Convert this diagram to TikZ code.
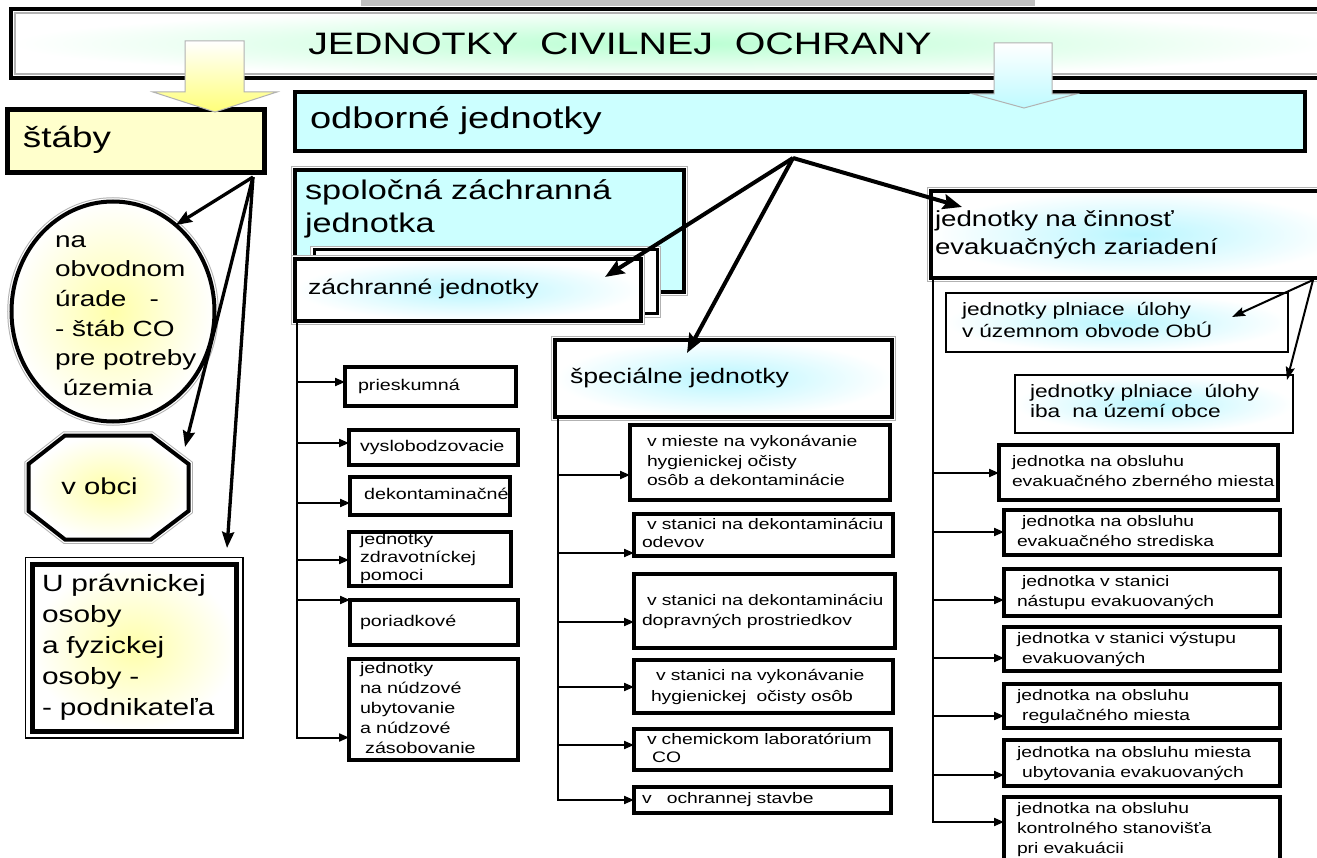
\documentclass[tikz,border=0pt]{standalone}
\usepackage{fontspec}
\setmainfont{Liberation Sans}[FakeStretch=1.27]
\usetikzlibrary{arrows.meta,calc,shapes.geometric}
\definecolor{cyanf}{RGB}{204,255,255}
\definecolor{yelf}{RGB}{255,255,204}
\definecolor{yelglow}{RGB}{255,255,170}
\definecolor{cyanglow}{RGB}{185,246,255}
\definecolor{greenglow}{RGB}{185,255,210}
\definecolor{stripgray}{RGB}{192,192,192}
\definecolor{arrowyel}{RGB}{255,255,120}
\definecolor{arrowcyan}{RGB}{190,250,255}
\newcommand\fsz[2]{\fontsize{#1pt}{#2pt}\selectfont}
\newcommand\bxt[2]{\hspace*{#1pt}\begin{tabular}{@{}l@{}}#2\end{tabular}}
\tikzset{
  base/.style={anchor=north west, outer sep=0pt, inner sep=0pt, align=left},
  dbl/.style={draw=black, line width=4pt, preaction={draw=gray!60, line width=8.5pt}, preaction={draw=white, line width=6.5pt}},
  dblg/.style={base, dbl},
  cglow/.style={shade, inner color=cyanglow, outer color=white},
  yglow/.style={shade, inner color=yelglow, outer color=white},
  smallbox/.style={base, draw=black, line width=4.5pt, fill=white},
  lfont/.style={font=\fsz{15.5}{19}},
  sfont/.style={font=\fsz{15.2}{19.5}},
  rfont/.style={font=\fsz{15.2}{20}},
  conn/.style={line width=2pt},
  arr/.style={conn, -{Triangle[length=10pt,width=8pt]}},
  arrP/.style={line width=2pt, -{Stealth[length=13pt,width=9pt,inset=2pt]}},
  arrS/.style={line width=3.3pt, -{Stealth[length=16pt,width=12pt,inset=2pt]}},
  arrM/.style={line width=4pt, -{Stealth[length=19pt,width=15pt,inset=3pt]}},
  blockarrow/.style={draw=gray!60, line width=1pt}
}
\begin{document}
\begin{tikzpicture}[x=1pt,y=-1pt]
\useasboundingbox (0,0) rectangle (1317,858);
\clip (0,0) rectangle (1317,858);
\fill[white] (0,0) rectangle (1317,858);

% title
\node[base, draw=black, line width=4pt, shade, inner color=greenglow, outer color=white,
      minimum width=1320pt, minimum height=69pt] (title) at (11,9) {};
\draw[gray!60, line width=1.2pt] ($(title.north west)+(4,4)$) rectangle ($(title.south east)+(-4,-4)$);
\fill[stripgray] (361,-2) rectangle (1035,6.5);
\node[font=\fsz{31}{36}, inner sep=0pt] (ttl) at (620,44) {JEDNOTKY\ \ CIVILNEJ\ \ OCHRANY};

% main boxes
\node[base, draw=black, line width=4.5pt, fill=cyanf, minimum width=1010pt, minimum height=59pt,
      text width=1010pt, font=\fsz{30}{35}] (odb) at (295,92) {\bxt{15}{odborné jednotky}};
\node[base, draw=black, line width=5pt, fill=yelf, minimum width=257pt, minimum height=63pt,
      text width=257pt, font=\fsz{29}{34}] (staby) at (7.5,109.5) {\bxt{15.5}{štáby}};

% spolocna zachranna jednotka stack
\node[dblg, fill=cyanf, minimum width=389pt, minimum height=122pt, text width=389pt,
      font=\fsz{27}{33}] (spol) at (295,170)
      {\hspace*{10pt}\parbox[c][102pt][t]{370pt}{spoločná záchranná\\jednotka}};
\node[base, draw=black, line width=3pt, preaction={draw=gray!60, line width=8pt},
      preaction={draw=white, line width=6pt}, fill=white,
      minimum width=343pt, minimum height=64pt] (zb) at (314,250) {};
\node[dblg, cglow, minimum width=346pt, minimum height=62pt, text width=346pt,
      font=\fsz{21}{25}] (zach) at (295,259) {\bxt{13}{záchranné jednotky}};

% zachranne sub-boxes
\node[smallbox, lfont, minimum width=171pt, minimum height=39pt, text width=171pt] (prie) at (345,367) {\bxt{13}{prieskumná}};
\node[smallbox, lfont, minimum width=169pt, minimum height=35pt, text width=169pt] (vysl) at (349,430) {\bxt{11}{vyslobodzovacie}};
\node[smallbox, lfont, minimum width=160pt, minimum height=38pt, text width=160pt] (dekon) at (350,477) {\bxt{9}{\ dekontaminačné}};
\node[smallbox, font=\fsz{15.5}{18}, minimum width=162pt, minimum height=54pt, text width=162pt] (zdrav) at (349,532) {\bxt{11}{jednotky\\zdravotníckej\\pomoci}};
\node[smallbox, lfont, minimum width=168pt, minimum height=45pt, text width=168pt] (pori) at (350,600) {\bxt{10}{poriadkové}};
\node[smallbox, line width=3.5pt, font=\fsz{15.5}{20}, minimum width=169pt, minimum height=101pt, text width=169pt] (nudz) at (349,659) {\bxt{11}{jednotky\\na núdzové\\ubytovanie\\a núdzové\\\ zásobovanie}};

% specialne
\node[dblg, cglow, minimum width=337pt, minimum height=77pt, text width=337pt,
      font=\fsz{21}{25}] (spec) at (555,340) {\bxt{15}{špeciálne jednotky}};
\node[smallbox, sfont, minimum width=260pt, minimum height=75pt, text width=260pt] (s1) at (630,425) {\bxt{17}{v mieste na vykonávanie\\hygienickej očisty\\osôb a dekontaminácie}};
\node[smallbox, font=\fsz{15.2}{18}, minimum width=259pt, minimum height=42pt, text width=259pt] (s2) at (634,514) {\bxt{8}{\ v stanici na dekontamináciu\\odevov}};
\node[smallbox, font=\fsz{15.2}{20}, minimum width=261pt, minimum height=74pt, text width=261pt] (s3) at (634,574) {\bxt{8}{\ v stanici na dekontamináciu\\dopravných prostriedkov}};
\node[smallbox, font=\fsz{15.2}{21}, minimum width=259pt, minimum height=53pt, text width=259pt] (s4) at (634,660) {\bxt{17}{\ v stanici na vykonávanie\\hygienickej\ \ očisty osôb}};
\node[smallbox, font=\fsz{15.2}{18}, minimum width=257pt, minimum height=41pt, text width=257pt] (s5) at (634,729) {\bxt{13}{v chemickom laboratórium\\\ CO}};
\node[smallbox, font=\fsz{15.2}{18}, minimum width=257pt, minimum height=26pt, text width=257pt] (s6) at (634,787) {\bxt{8}{v\ \ \ ochrannej stavbe}};

% evakuacne
\node[dblg, cglow, minimum width=410pt, minimum height=87pt, text width=410pt,
      font=\fsz{21.8}{28}] (cin) at (931,191) {\bxt{4}{jednotky na činnosť\\evakuačných zariadení}};
\node[base, draw=black, line width=1.5pt, cglow, minimum width=342pt, minimum height=59pt,
      text width=342pt, font=\fsz{17.9}{20}] (p1) at (946,293) {\bxt{16}{jednotky plniace\ \ úlohy\\v územnom obvode ObÚ}};
\node[base, draw=black, line width=1.5pt, cglow, minimum width=278pt, minimum height=58pt,
      text width=278pt, font=\fsz{17.9}{20}] (p2) at (1015,375) {\bxt{15}{jednotky plniace\ \ úlohy\\iba\ \ na území obce}};
\node[smallbox, rfont, minimum width=279pt, minimum height=55pt, text width=279pt] (r1) at (999,445) {\bxt{13}{jednotka na obsluhu\\evakuačného zberného miesta}};
\node[smallbox, rfont, minimum width=276pt, minimum height=45pt, text width=276pt] (r2) at (1004,510) {\bxt{13}{\ jednotka na obsluhu\\evakuačného strediska}};
\node[smallbox, rfont, minimum width=276pt, minimum height=47pt, text width=276pt] (r3) at (1004,569) {\bxt{13}{\ jednotka v stanici\\nástupu evakuovaných}};
\node[smallbox, rfont, minimum width=276pt, minimum height=44pt, text width=276pt] (r4) at (1004,627) {\bxt{13}{jednotka v stanici výstupu\\\ evakuovaných}};
\node[smallbox, rfont, minimum width=276pt, minimum height=44pt, text width=276pt] (r5) at (1004,684) {\bxt{13}{jednotka na obsluhu\\\ regulačného miesta}};
\node[smallbox, rfont, minimum width=276pt, minimum height=46pt, text width=276pt] (r6) at (1004,740) {\bxt{13}{jednotka na obsluhu miesta\\\ ubytovania evakuovaných}};
\node[smallbox, rfont, minimum width=276pt, minimum height=64pt, text width=276pt] (r7) at (1004,797) {\bxt{13}{jednotka na obsluhu\\kontrolného stanovišťa\\pri evakuácii}};

% left column
\node[dbl, yglow, shape=ellipse, anchor=center, outer sep=0pt, inner sep=0pt,
      minimum width=203pt, minimum height=220pt, font=\fsz{22}{29.6}] (obv) at (113,311.5)
      {\smash{\raisebox{-9pt}{\makebox[116pt][l]{\begin{tabular}{@{}l@{}}na\\obvodnom\\úrade\ \ \ -\\- štáb CO\\pre potreby\\\ územia\end{tabular}}}}};
\draw[dbl, yglow] (65,435.5) -- (151,435.5) -- (188.5,464) -- (188.5,511) -- (151,539.5)
      -- (65,539.5) -- (28.5,511) -- (28.5,464) -- cycle;
\node[inner sep=0pt, font=\fsz{23}{28}] (obec) at (99.5,486.5) {v obci};
\node[base, draw=black, line width=5pt, preaction={draw=black, line width=15pt},
      preaction={draw=white, line width=12.6pt}, yglow, minimum width=204pt, minimum height=167pt,
      text width=204pt, font=\fsz{23.5}{31}] (pravn) at (32,564)
      {\bxt{10}{U právnickej\\osoby\\a fyzickej\\osoby -\\- podnikateľa}};

% block arrows
\draw[blockarrow, top color=white, bottom color=arrowyel] (185,41) -- (244,41) -- (244,92)
      -- (277,92) -- (215,112) -- (153,92) -- (185,92) -- cycle;
\draw[blockarrow, top color=white, bottom color=arrowcyan] (994,43) -- (1052,43) -- (1052,94)
      -- (1076,94) -- (1024,108) -- (973,94) -- (994,94) -- cycle;

% connector coordinates
\coordinate (so) at (253,177);
\coordinate (ot) at (185,447);
\coordinate (ut) at (227,548);
\coordinate (oo) at (793,158);
\coordinate (zt) at (605,277);
\coordinate (st) at (687,353);
\coordinate (ct) at (962,207);
\coordinate (cb) at (1313,280);
\coordinate (p1t) at (1232,317);
\coordinate (p2t) at (1287,380);
\coordinate (zv) at (297,321);
\coordinate (sv) at (558,417);
\coordinate (cv) at (933,278);

% stab arrows
\draw[arrS] (so) -- (obv.54);
\draw[arrS] (so) -- (ot);
\draw[arrS] (so) -- (ut);

% odborne arrows
\draw[arrM] (oo) -- (zt);
\draw[arrM] (oo) -- (st);
\draw[arrM] (oo) -- (ct);

% evakuacne arrows
\draw[arrP] (cb) -- (p1t);
\draw[arrP] (cb) -- (p2t);

% zachranne tree
\draw[arr] (zv |- 0,382) -- (prie.west |- 0,382);
\draw[arr] (zv |- 0,443) -- (vysl.west |- 0,443);
\draw[arr] (zv |- 0,503) -- (dekon.west |- 0,503);
\draw[arr] (zv |- 0,560) -- (zdrav.west |- 0,560);
\draw[arr] (zv |- 0,600) -- (pori.west |- 0,600);
\draw[arr] (zv) |- (nudz.west |- 0,737.5);

% specialne tree
\draw[arr] (sv |- 0,475) -- (s1.west |- 0,475);
\draw[arr] (sv |- 0,553) -- (s2.west |- 0,553);
\draw[arr] (sv |- 0,622) -- (s3.west |- 0,622);
\draw[arr] (sv |- 0,687) -- (s4.west |- 0,687);
\draw[arr] (sv |- 0,745) -- (s5.west |- 0,745);
\draw[arr] (sv) |- (s6.west |- 0,800);

% evakuacne tree
\draw[arr] (cv |- 0,473) -- (r1.west |- 0,473);
\draw[arr] (cv |- 0,532) -- (r2.west |- 0,532);
\draw[arr] (cv |- 0,600) -- (r3.west |- 0,600);
\draw[arr] (cv |- 0,658) -- (r4.west |- 0,658);
\draw[arr] (cv |- 0,716) -- (r5.west |- 0,716);
\draw[arr] (cv |- 0,775) -- (r6.west |- 0,775);
\draw[arr] (cv) |- (r7.west |- 0,822);
\end{tikzpicture}
\end{document}
